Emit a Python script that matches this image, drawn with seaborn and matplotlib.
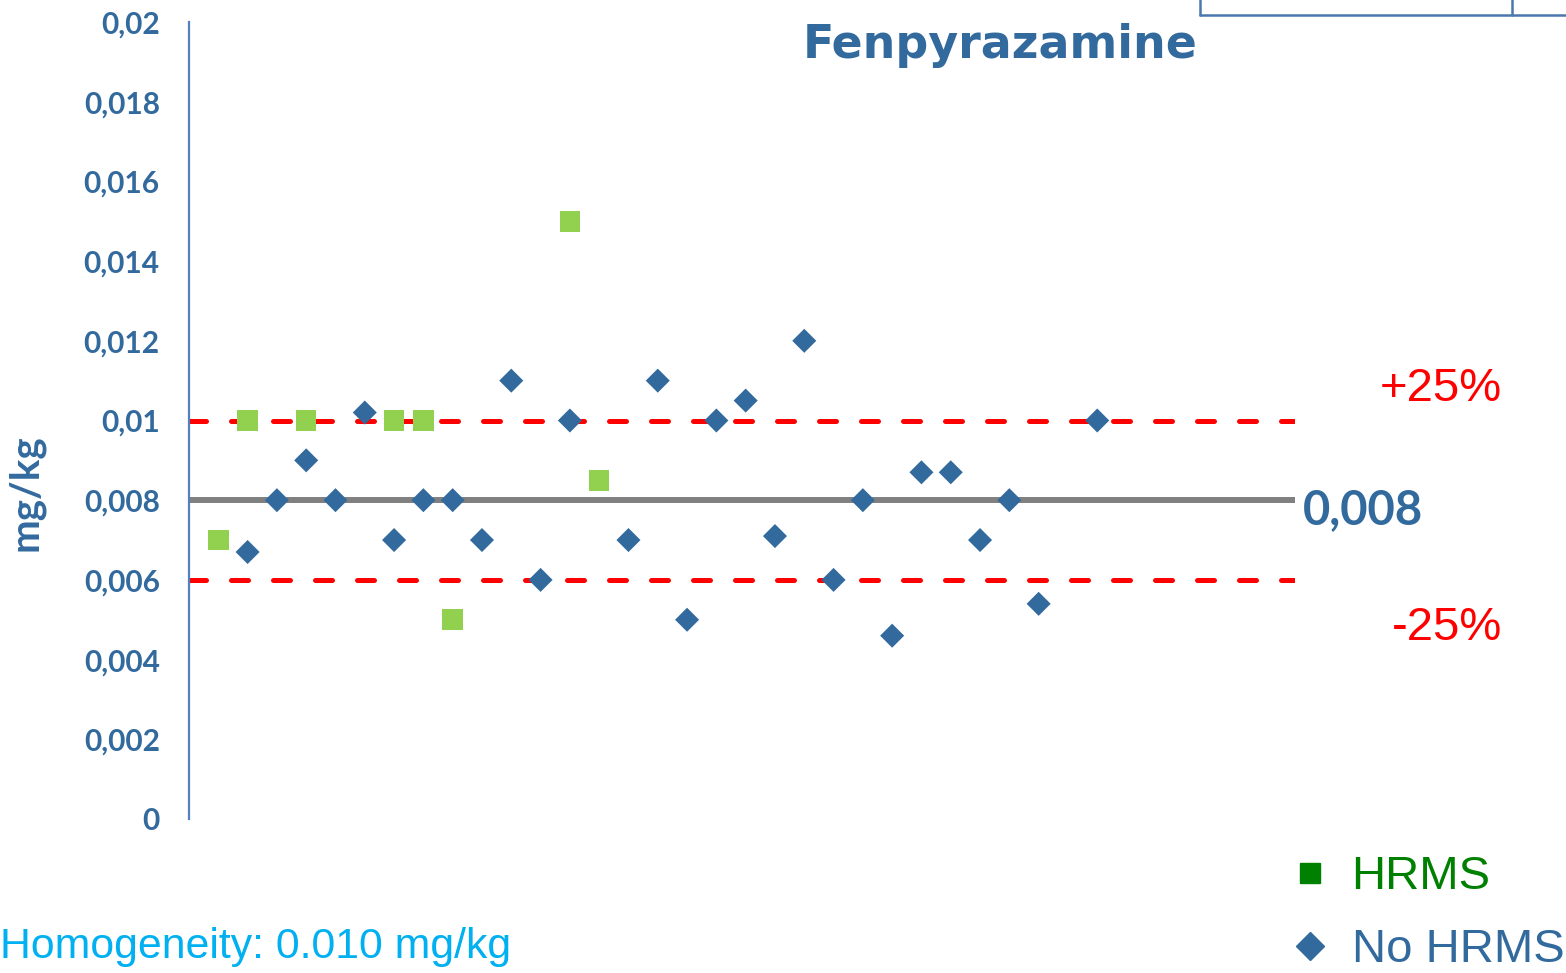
import matplotlib
matplotlib.use("Agg")
import matplotlib.pyplot as plt
import matplotlib.ticker as mticker
import matplotlib.transforms as mtrans
from matplotlib.lines import Line2D
import seaborn as sns
import pandas as pd

# lab results (lab index on x, mg/kg on y)
hrms_lab = [1, 2, 4, 7, 8, 9, 13, 14]
hrms_val = [0.0070, 0.0100, 0.0100, 0.0100, 0.0100, 0.0050, 0.0150, 0.0085]

nohrms_lab = [2, 3, 4, 5, 6, 7, 8, 9, 10, 11, 12, 13, 15, 16, 17, 18, 19, 20,
              21, 22, 23, 24, 25, 26, 27, 28, 29, 31]
nohrms_val = [0.0067, 0.0080, 0.0090, 0.0080, 0.0102, 0.0070, 0.0080, 0.0080,
              0.0070, 0.0110, 0.0060, 0.0100, 0.0070, 0.0110, 0.0050, 0.0100,
              0.0105, 0.0071, 0.0120, 0.0060, 0.0080, 0.0046, 0.0087, 0.0087,
              0.0070, 0.0080, 0.0054, 0.0100]

assigned = 0.008
upper = 0.010
lower = 0.006
yticks = [0, 0.002, 0.004, 0.006, 0.008, 0.01, 0.012, 0.014, 0.016, 0.018, 0.02]

df = pd.DataFrame({
    "lab": hrms_lab + nohrms_lab,
    "value": hrms_val + nohrms_val,
    "group": ["HRMS"] * len(hrms_lab) + ["No HRMS"] * len(nohrms_lab),
})

blue = "#336A9E"
sns.set_style("white")

fig = plt.figure(figsize=(15.66, 9.73), dpi=100)
ax = fig.add_axes([189 / 1566, 1 - 819 / 973, (1295 - 189) / 1566, (819 - 22) / 973])

ax.axhline(assigned, color="#808080", lw=4.3, zorder=1)
for yv in (upper, lower):
    ax.axhline(yv, color="#FF0000", lw=3.6, ls=(0, (3.4, 5.0)),
               dash_capstyle="round", zorder=1)

sns.scatterplot(data=df, x="lab", y="value", hue="group", style="group",
                size="group", sizes={"HRMS": 220, "No HRMS": 150},
                palette={"HRMS": "#92D050", "No HRMS": blue},
                markers={"HRMS": "s", "No HRMS": "D"},
                linewidth=0, legend=False, ax=ax, zorder=3)

ax.set_xlim(0, 37.75)
ax.set_ylim(0, 0.02)
ax.set_xticks([])
ax.set_yticks(yticks)
ax.yaxis.set_major_formatter(mticker.FuncFormatter(
    lambda v, p: "0" if v == 0 else f"{v:.3f}".rstrip("0").replace(".", ",")))
ax.tick_params(axis="y", length=0, pad=21, labelcolor=blue, labelsize=21.5)
for lab in ax.get_yticklabels():
    lab.set_fontfamily("Lato")
    lab.set_fontweight("bold")
ax.set_xlabel("")
ax.set_ylabel("mg/kg", color=blue, fontsize=29, fontweight="bold", family="Lato")
ax.yaxis.set_label_coords(-0.131, 0.41)

for side in ("top", "right", "bottom"):
    ax.spines[side].set_visible(False)
ax.spines["left"].set_color("#4F81BD")
ax.spines["left"].set_linewidth(1.6)

trans = mtrans.blended_transform_factory(ax.transAxes, ax.transData)
ax.text(1.007, assigned - 0.00025, "0,008", transform=trans, color=blue,
        fontsize=34, fontweight="bold", family="Lato", va="center", ha="left",
        clip_on=False)
ax.text(1.187, upper + 0.00078, "+25%", transform=trans, color="#FF0000",
        fontsize=34, family="Liberation Sans", va="center", ha="right",
        clip_on=False)
ax.text(1.187, lower - 0.0012, "-25%", transform=trans, color="#FF0000",
        fontsize=34, family="Liberation Sans", va="center", ha="right",
        clip_on=False)

fig.text(1000 / 1566, 1 - 45 / 973, "Fenpyrazamine", color=blue, fontsize=33,
         fontweight="bold", family="DejaVu Sans", ha="center", va="center")

fig.text(0.0, 1 - 947 / 973, "Homogeneity: 0.010 mg/kg", color="#00B0F0",
         fontsize=30.8, family="Liberation Sans", ha="left", va="center")

# legend below the plot, at the right
handles = [
    Line2D([], [], ls="none", marker="s", markersize=15, color="#008000"),
    Line2D([], [], ls="none", marker="D", markersize=14, color=blue),
]
fig.legend(handles, ["HRMS", "No HRMS"], loc="lower right",
           bbox_to_anchor=(1.026, -0.043), frameon=False,
           prop={"family": "Liberation Sans", "size": 34},
           labelcolor=["#008000", blue], handlelength=1.0, handletextpad=0.38,
           labelspacing=0.62)

# edge of the table that sits above the chart
for xy in (([1200, 1566], [15, 15]), ([1200, 1200], [0, 15]), ([1512, 1512], [0, 15])):
    fig.add_artist(Line2D([x / 1566 for x in xy[0]], [1 - y / 973 for y in xy[1]],
                          color="#4A78AD", lw=1.8))

fig.savefig("out.png", dpi=100)
